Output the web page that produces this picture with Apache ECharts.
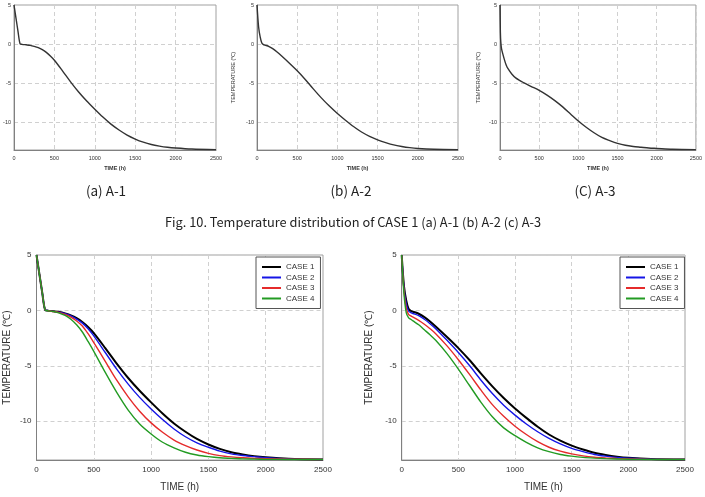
<!DOCTYPE html>
<html>
<head>
<meta charset="utf-8">
<script src="https://cdn.jsdelivr.net/npm/echarts@6/dist/echarts.min.js"></script>
<style>
  html, body { margin: 0; padding: 0; background: #fff; }
  #main { width: 705px; height: 497px; }
</style>
</head>
<body>
<div id="main"></div>
<script>
// time axis (h) and temperatures (deg C)
var tLeft = [0, 25, 50, 75, 100, 150, 200, 250, 300, 350, 400, 450, 500, 600, 700, 800, 900, 1000, 1100, 1200, 1300, 1400, 1500, 1600, 1700, 1800, 1900, 2000, 2200, 2500];
var left1 = [5, 3.3, 1.6, 0.05, -0.02, -0.08, -0.15, -0.28, -0.45, -0.7, -1.05, -1.5, -2.05, -3.4, -4.8, -6.1, -7.25, -8.3, -9.3, -10.2, -10.95, -11.6, -12.1, -12.5, -12.8, -13.0, -13.15, -13.25, -13.38, -13.45];
var left2 = [5, 3.3, 1.6, 0.05, -0.02, -0.09, -0.17, -0.3, -0.5, -0.78, -1.15, -1.65, -2.3, -3.8, -5.3, -6.65, -7.85, -8.9, -9.85, -10.7, -11.4, -11.95, -12.35, -12.7, -12.95, -13.1, -13.2, -13.3, -13.4, -13.45];
var left3 = [5, 3.3, 1.6, 0.05, -0.03, -0.1, -0.2, -0.35, -0.6, -0.95, -1.4, -2.1, -2.9, -4.6, -6.3, -7.8, -9.1, -10.15, -11.0, -11.7, -12.2, -12.6, -12.9, -13.1, -13.22, -13.3, -13.35, -13.38, -13.42, -13.45];
var left4 = [5, 3.3, 1.6, 0.05, -0.04, -0.1, -0.25, -0.45, -0.8, -1.3, -1.95, -2.8, -3.7, -5.6, -7.4, -9.0, -10.25, -11.15, -11.9, -12.4, -12.8, -13.05, -13.2, -13.3, -13.35, -13.4, -13.42, -13.44, -13.45, -13.45];

var tRight = [0, 20, 40, 60, 80, 100, 150, 200, 250, 300, 400, 500, 600, 700, 800, 900, 1000, 1100, 1200, 1300, 1400, 1500, 1600, 1700, 1800, 1900, 2000, 2200, 2500];
var right1 = [5, 2.2, 0.9, 0.15, -0.05, -0.12, -0.3, -0.6, -1.0, -1.45, -2.4, -3.4, -4.5, -5.7, -6.85, -7.9, -8.85, -9.7, -10.5, -11.2, -11.75, -12.2, -12.55, -12.85, -13.05, -13.2, -13.3, -13.4, -13.45];
var right2 = [5, 2.0, 0.6, -0.05, -0.2, -0.28, -0.48, -0.8, -1.2, -1.65, -2.7, -3.8, -5.0, -6.3, -7.5, -8.55, -9.45, -10.25, -10.95, -11.55, -12.05, -12.45, -12.75, -13.0, -13.15, -13.26, -13.33, -13.42, -13.45];
var right3 = [5, 1.8, 0.2, -0.35, -0.5, -0.6, -0.9, -1.25, -1.65, -2.1, -3.2, -4.45, -5.8, -7.2, -8.5, -9.55, -10.45, -11.2, -11.85, -12.35, -12.7, -12.95, -13.13, -13.25, -13.32, -13.37, -13.4, -13.44, -13.45];
var right4 = [5, 1.5, -0.2, -0.65, -0.8, -0.95, -1.3, -1.75, -2.2, -2.7, -3.9, -5.3, -6.8, -8.3, -9.6, -10.6, -11.3, -11.9, -12.4, -12.75, -13.0, -13.15, -13.26, -13.33, -13.38, -13.41, -13.43, -13.45, -13.45];

var tA3 = [0, 5, 10, 20, 40, 60, 80, 100, 150, 200, 300, 400, 500, 600, 700, 800, 900, 1000, 1100, 1200, 1300, 1400, 1500, 1600, 1700, 1800, 1900, 2000, 2200, 2500];
var a3 = [5, 1.5, 0.3, -0.6, -1.4, -2.1, -2.7, -3.1, -3.8, -4.3, -4.9, -5.4, -5.9, -6.5, -7.2, -8.0, -8.9, -9.8, -10.6, -11.3, -11.9, -12.3, -12.65, -12.9, -13.05, -13.15, -13.25, -13.3, -13.4, -13.45];

var caseNames = ['CASE 1', 'CASE 2', 'CASE 3', 'CASE 4'];
var caseColors = ['#000000', '#1515e6', '#e52b2b', '#239b23'];
var xTicks = [0, 500, 1000, 1500, 2000, 2500];

function pairs(t, v) {
  return t.map(function (x, i) { return [x, v[i]]; });
}

var FONT = 'Liberation Sans, Arial, sans-serif';
var chart = echarts.init(document.getElementById('main'));

var grids = [
  { left: 14, top: 5, width: 202, height: 145 },
  { left: 257, top: 5, width: 201, height: 145 },
  { left: 500, top: 5, width: 201, height: 145 },
  { left: 36.5, top: 255, width: 286.5, height: 205 },
  { left: 401.7, top: 255, width: 283.3, height: 205 }
];
grids.forEach(function (g) { g.show = true; g.borderColor = '#a0a0a0'; g.borderWidth = 1; g.backgroundColor = '#fff'; });

function xAx(i, small) {
  return {
    type: 'value', gridIndex: i, min: xTicks[0], max: xTicks[xTicks.length - 1], interval: 500,
    name: 'TIME (h)', nameLocation: 'middle', nameGap: small ? 15 : 22,
    nameTextStyle: { fontFamily: FONT, fontSize: small ? 5.5 : 10, color: '#333', fontWeight: small ? 'bold' : 'normal' },
    axisLine: { onZero: false, lineStyle: { color: '#808080' } },
    axisTick: { show: false },
    axisLabel: { fontFamily: FONT, fontSize: small ? 5.5 : 8, color: '#333', margin: small ? 5 : 6,
      formatter: function (v) { return String(v); } },
    splitLine: { lineStyle: { type: [4, 3], color: '#d0d0d0' } }
  };
}
function yAx(i, small, name, gap) {
  return {
    type: 'value', gridIndex: i, min: -13.5, max: 5, splitNumber: 4,
    name: name, nameLocation: 'middle', nameGap: gap,
    nameTextStyle: { fontFamily: FONT, fontSize: small ? 5.5 : 10, color: '#333' },
    axisLine: { show: true, onZero: false, lineStyle: { color: '#808080' } },
    axisTick: { show: false },
    axisLabel: {
      fontFamily: FONT, fontSize: small ? 5.5 : 8, color: '#333', margin: small ? 3 : 5,
      formatter: function (v) { return v % 5 === 0 ? String(v) : ''; }
    },
    splitLine: { lineStyle: { type: [4, 3], color: '#d0d0d0' } }
  };
}

var series = [];
function addLine(name, i, t, v, color, width) {
  series.push({
    name: name, type: 'line', xAxisIndex: i, yAxisIndex: i,
    data: pairs(t, v), showSymbol: false, symbol: 'none',
    smooth: 0.3,
    lineStyle: { color: color, width: width }, itemStyle: { color: color },
    silent: true, animation: false
  });
}
addLine('A-1', 0, tLeft, left1, '#333', 1.4);
addLine('A-2', 1, tRight, right1, '#333', 1.4);
addLine('A-3', 2, tA3, a3, '#333', 1.4);
[left1, left2, left3, left4].forEach(function (v, k) {
  addLine(caseNames[k], 3, tLeft, v, caseColors[k], k === 0 ? 2 : 1.4);
});
[right1, right2, right3, right4].forEach(function (v, k) {
  addLine(caseNames[k], 4, tRight, v, caseColors[k], k === 0 ? 2 : 1.4);
});

function legendAt(left) {
  return {
    data: caseNames, orient: 'vertical', left: left, top: 257,
    icon: 'rect', itemWidth: 19, itemHeight: 2, itemGap: 0.5, itemTextGap: 4,
    padding: [5, 6, 5, 6],
    borderColor: '#555', borderWidth: 1, backgroundColor: '#fff',
    textStyle: { fontFamily: FONT, fontSize: 8, color: '#333', lineHeight: 10 },
    selectedMode: false
  };
}

function caption(x, y, text, size) {
  return {
    type: 'text', x: x, y: y,
    style: { text: text, fill: '#222', font: size + 'px "Noto Sans CJK KR", sans-serif', align: 'center', verticalAlign: 'middle' }
  };
}

var option = {
  animation: false,
  grid: grids,
  xAxis: [xAx(0, true), xAx(1, true), xAx(2, true), xAx(3, false), xAx(4, false)],
  yAxis: [
    yAx(0, true, '', 20),
    yAx(1, true, 'TEMPERATURE (\u2103)', 21),
    yAx(2, true, 'TEMPERATURE (\u2103)', 19),
    yAx(3, false, 'TEMPERATURE (\u2103)', 24),
    yAx(4, false, 'TEMPERATURE (\u2103)', 27)
  ],
  legend: [legendAt(256), legendAt(620)],
  series: series,
  graphic: [
    caption(106, 191, '(a) A-1', 13.5),
    caption(351, 191, '(b) A-2', 13.5),
    caption(595, 191, '(C) A-3', 13.5),
    caption(353, 222, 'Fig. 10. Temperature distribution of CASE 1 (a) A-1 (b) A-2 (c) A-3', 12.8)
  ]
};
chart.setOption(option);
window.addEventListener('resize', chart.resize);
</script>
</body>
</html>
